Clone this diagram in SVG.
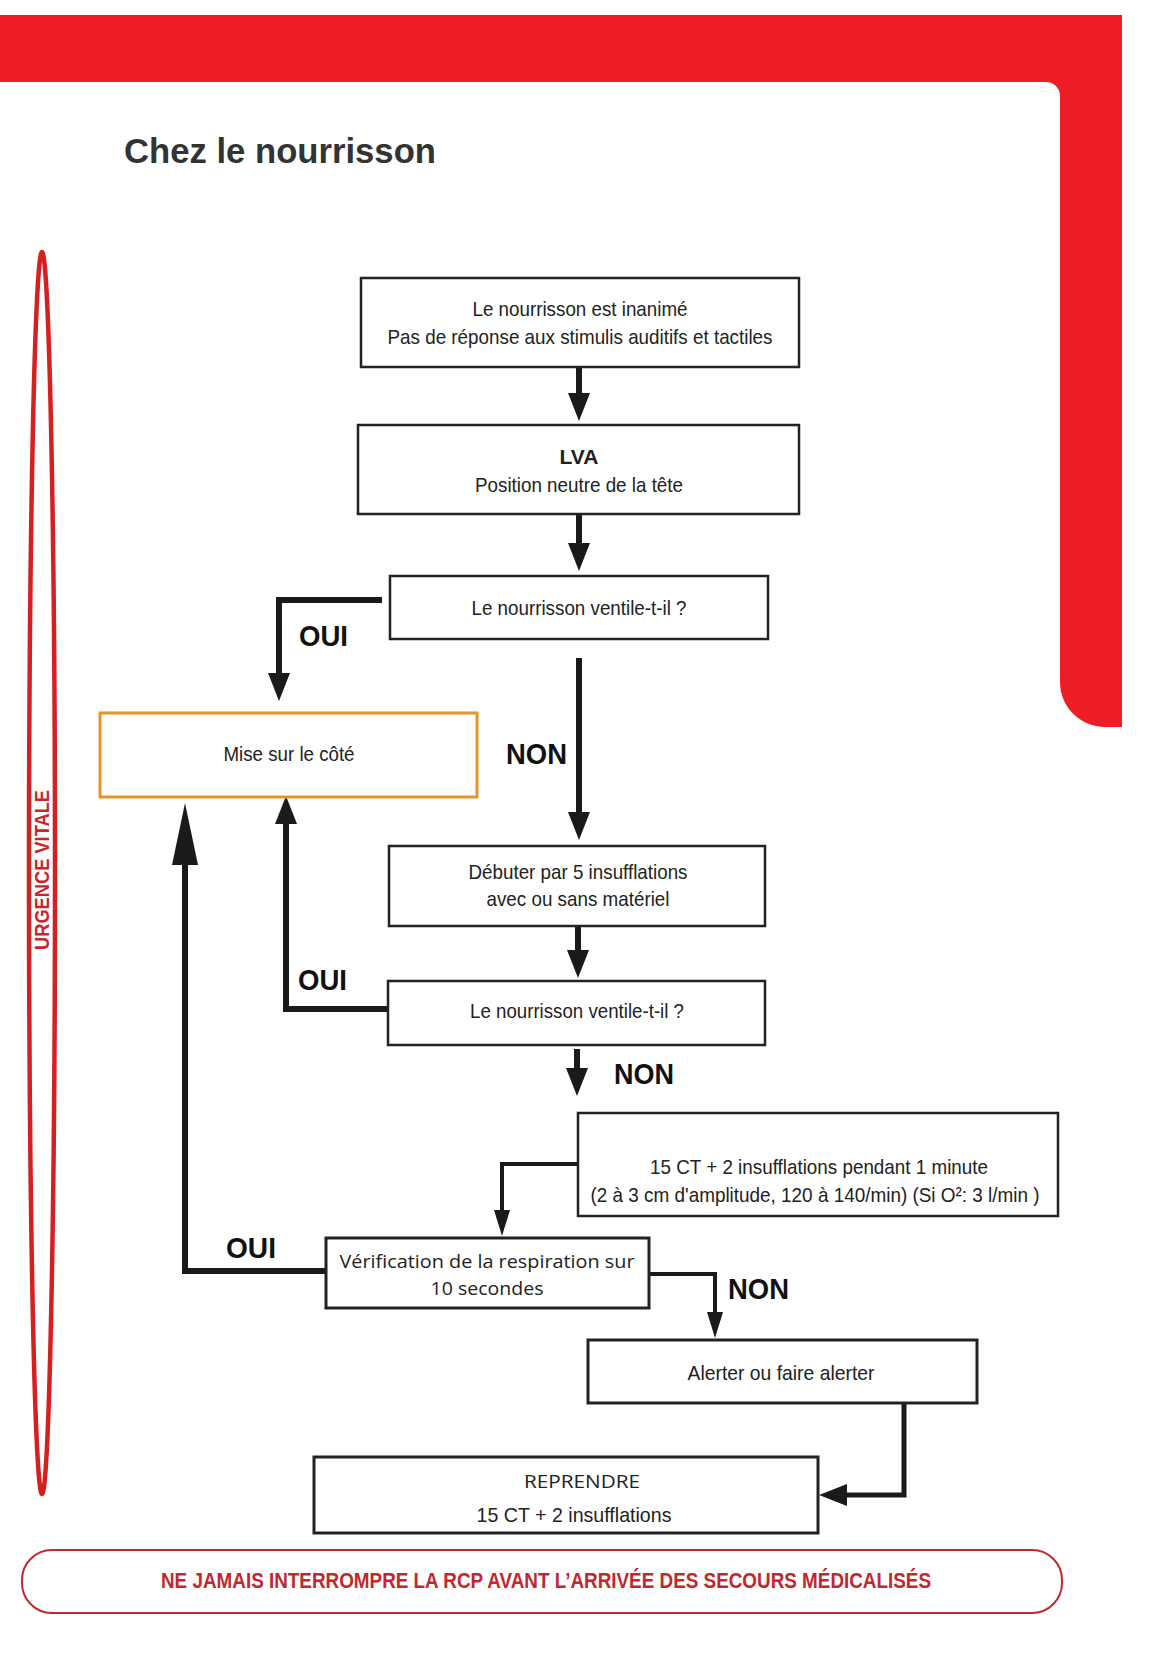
<svg xmlns="http://www.w3.org/2000/svg" width="1168" height="1653" viewBox="0 0 1168 1653">
<style>
.box{fill:#fff;stroke:#222;stroke-width:2.5}
.t{font-family:"Liberation Sans",Arial,sans-serif;font-size:21px;fill:#222;text-anchor:middle}
.o{font-family:"Open Sans","Liberation Sans",sans-serif;font-size:19px;fill:#222;text-anchor:middle}
.lbl{font-family:"Liberation Sans",Arial,sans-serif;font-weight:bold;font-size:30px;fill:#111}
.c{fill:none;stroke:#1a1a1a;stroke-width:6}
.cs{fill:none;stroke:#1a1a1a;stroke-width:4}
</style>
<defs>
<marker id="ah" markerUnits="userSpaceOnUse" markerWidth="30" markerHeight="24" refX="0" refY="12" orient="auto" viewBox="0 0 30 24"><path d="M0,1 L28,12 L0,23 z" fill="#1a1a1a"/></marker>
<marker id="as" markerUnits="userSpaceOnUse" markerWidth="28" markerHeight="18" refX="0" refY="9" orient="auto" viewBox="0 0 28 18"><path d="M0,1 L26,9 L0,17 z" fill="#1a1a1a"/></marker>
<marker id="al" markerUnits="userSpaceOnUse" markerWidth="64" markerHeight="30" refX="0" refY="15" orient="auto" viewBox="0 0 64 30"><path d="M0,2 L62,15 L0,28 z" fill="#1a1a1a"/></marker>
</defs>
<rect width="1168" height="1653" fill="#fff"/>
<g id="frame">
<path d="M0,15 H1122 V727 H1105 A45,45 0 0 1 1060,682 V96 A14,14 0 0 0 1046,82 H0 Z" fill="#ec1d24"/>
</g>
<g id="title"><text x="124" y="163" font-family="Liberation Sans,Arial,sans-serif" font-weight="bold" font-size="35" fill="#333" textLength="312" lengthAdjust="spacingAndGlyphs">Chez le nourrisson</text></g>
<g id="urgence">
<ellipse cx="42" cy="873" rx="13" ry="621" fill="none" stroke="#d4211f" stroke-width="4.5"/>
<text x="49" y="870" transform="rotate(-90 49 870)" font-family="Liberation Sans,Arial,sans-serif" font-weight="bold" font-size="21" fill="#c8262c" text-anchor="middle" textLength="160" lengthAdjust="spacingAndGlyphs">URGENCE VITALE</text>
</g>
<g id="connectors">
<path class="c" d="M579,368 V393" marker-end="url(#ah)"/>
<path class="c" d="M579,514 V543" marker-end="url(#ah)"/>
<path class="c" d="M382,600 H279 V673" marker-end="url(#ah)"/>
<path class="c" d="M579,658 V812" marker-end="url(#ah)"/>
<path class="c" d="M578,926 V950" marker-end="url(#ah)"/>
<path class="c" d="M387,1009 H286 V824" marker-end="url(#ah)"/>
<path class="c" d="M577,1049 V1068" marker-end="url(#ah)"/>
<path class="cs" d="M577,1164 H502 V1210" marker-end="url(#as)"/>
<path class="c" d="M325,1271 H185 V865" marker-end="url(#al)"/>
<path class="cs" d="M650,1274 H715 V1312" marker-end="url(#as)"/>
<path class="cs" style="stroke-width:5" d="M904,1403 V1495 H847" marker-end="url(#ah)"/>
<text class="lbl" x="299" y="646" textLength="49" lengthAdjust="spacingAndGlyphs">OUI</text>
<text class="lbl" x="506" y="764" font-size="32" textLength="61" lengthAdjust="spacingAndGlyphs">NON</text>
<text class="lbl" x="298" y="990" textLength="49" lengthAdjust="spacingAndGlyphs">OUI</text>
<text class="lbl" x="614" y="1084" textLength="60" lengthAdjust="spacingAndGlyphs">NON</text>
<text class="lbl" x="226" y="1258" textLength="50" lengthAdjust="spacingAndGlyphs">OUI</text>
<text class="lbl" x="728" y="1299" textLength="61" lengthAdjust="spacingAndGlyphs">NON</text>
</g>
<g id="n1"><rect class="box" x="361" y="278" width="438" height="89"/>
<text class="t" x="580" y="316" textLength="215" lengthAdjust="spacingAndGlyphs">Le nourrisson est inanimé</text>
<text class="t" x="580" y="344" textLength="385" lengthAdjust="spacingAndGlyphs">Pas de réponse aux stimulis auditifs et tactiles</text></g>
<g id="n2"><rect class="box" x="358" y="425" width="441" height="89"/>
<text class="t" x="579" y="464" font-weight="bold" font-size="20">LVA</text>
<text class="t" x="579" y="492" textLength="208" lengthAdjust="spacingAndGlyphs">Position neutre de la tête</text></g>
<g id="n3"><rect class="box" x="390" y="576" width="378" height="63"/>
<text class="t" x="579" y="615" textLength="215" lengthAdjust="spacingAndGlyphs">Le nourrisson ventile-t-il ?</text></g>
<g id="n4"><rect x="100" y="713" width="377" height="84" fill="#fff" stroke="#e8922b" stroke-width="3"/>
<text class="t" x="289" y="761" textLength="131" lengthAdjust="spacingAndGlyphs">Mise sur le côté</text></g>
<g id="n5"><rect class="box" x="389" y="846" width="376" height="80"/>
<text class="t" x="578" y="879" textLength="219" lengthAdjust="spacingAndGlyphs">Débuter par 5 insufflations</text>
<text class="t" x="578" y="906" textLength="183" lengthAdjust="spacingAndGlyphs">avec ou sans matériel</text></g>
<g id="n6"><rect class="box" x="388" y="981" width="377" height="64"/>
<text class="t" x="577" y="1018" textLength="214" lengthAdjust="spacingAndGlyphs">Le nourrisson ventile-t-il ?</text></g>
<g id="n7"><rect class="box" x="578" y="1113" width="480" height="103"/>
<text class="t" x="819" y="1174" textLength="338" lengthAdjust="spacingAndGlyphs">15 CT + 2 insufflations pendant 1 minute</text>
<text class="t" x="815" y="1202" textLength="449" lengthAdjust="spacingAndGlyphs">(2 à 3 cm d'amplitude, 120 à 140/min) (Si O²: 3 l/min )</text></g>
<g id="n8"><rect class="box" style="stroke-width:3" x="326" y="1238" width="323" height="70"/>
<text class="o" x="487" y="1268" textLength="295" lengthAdjust="spacingAndGlyphs">Vérification de la respiration sur</text>
<text class="o" x="487" y="1295" textLength="113" lengthAdjust="spacingAndGlyphs">10 secondes</text></g>
<g id="n9"><rect class="box" style="stroke-width:3" x="588" y="1340" width="389" height="63"/>
<text class="t" x="781" y="1380" textLength="187" lengthAdjust="spacingAndGlyphs">Alerter ou faire alerter</text></g>
<g id="n10"><rect class="box" style="stroke-width:3" x="314" y="1457" width="504" height="76"/>
<text class="o" x="582" y="1488" textLength="116" lengthAdjust="spacingAndGlyphs">REPRENDRE</text>
<text class="t" x="574" y="1522" textLength="195" lengthAdjust="spacingAndGlyphs">15 CT + 2 insufflations</text></g>
<g id="footer"><rect x="22" y="1550" width="1040" height="63" rx="30" fill="#fff" stroke="#c1272d" stroke-width="2"/>
<text x="546" y="1588" font-family="Liberation Sans,Arial,sans-serif" font-weight="bold" font-size="22" fill="#c1272d" text-anchor="middle" textLength="770" lengthAdjust="spacingAndGlyphs">NE JAMAIS INTERROMPRE LA RCP AVANT L’ARRIVÉE DES SECOURS MÉDICALISÉS</text></g>
</svg>
